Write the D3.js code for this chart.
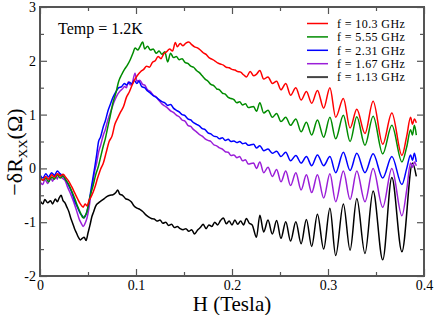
<!DOCTYPE html>
<html>
<head>
<meta charset="utf-8">
<script src="https://cdn.jsdelivr.net/npm/d3@7"></script>
<style>
  html, body { margin: 0; padding: 0; background: #fff; }
  svg { display: block; font-family: "Liberation Serif", "DejaVu Serif", serif; }
</style>
</head>
<body>
<svg id="chart"></svg>
<script>
// -dRxx vs H for several microwave frequencies, T = 1.2K

const xTicks = [0, 0.1, 0.2, 0.3, 0.4];
const xMinor = [0.05, 0.15, 0.25, 0.35];
const yTicks = [-2, -1, 0, 1, 2, 3];
const yMinor = [-1.5, -0.5, 0.5, 1.5, 2.5];

const labels = ["f = 10.3 GHz", "f = 5.55 GHz", "f = 2.31 GHz", "f = 1.67 GHz", "f = 1.13 GHz"];
const colors = ["#ff0000", "#008c00", "#0000ff", "#9a1ed8", "#000000"];

// [H (T), -dRxx (ohm)]
const red = [[0.000,-0.18],[0.003,-0.22],[0.006,-0.15],[0.009,-0.20],[0.012,-0.12],[0.015,-0.16],[0.018,-0.10],[0.021,-0.14],[0.024,-0.11],[0.027,-0.17],[0.030,-0.24],[0.033,-0.34],[0.036,-0.45],[0.039,-0.56],[0.042,-0.66],[0.045,-0.72],[0.047,-0.66],[0.049,-0.70],[0.051,-0.60],[0.054,-0.50],[0.057,-0.36],[0.060,-0.18],[0.063,-0.02],[0.066,0.10],[0.069,0.30],[0.072,0.50],[0.075,0.60],[0.078,0.82],[0.081,0.94],[0.084,1.05],[0.087,1.15],[0.090,1.32],[0.093,1.42],[0.096,1.55],[0.099,1.66],[0.102,1.74],[0.105,1.80],[0.108,1.84],[0.111,1.90],[0.114,1.88],[0.117,1.97],[0.120,2.00],[0.123,2.08],[0.126,2.04],[0.129,2.13],[0.132,2.17],[0.135,2.22],[0.138,2.18],[0.141,2.34],[0.143,2.26],[0.146,2.32],[0.149,2.28],[0.152,2.33],[0.155,2.35],[0.158,2.30],[0.161,2.26],[0.164,2.24],[0.167,2.20],[0.170,2.15],[0.173,2.12],[0.176,2.06],[0.179,2.03],[0.182,2.00],[0.185,1.96],[0.188,1.94],[0.191,1.92],[0.194,1.88],[0.197,1.87],[0.200,1.84],[0.203,1.83],[0.206,1.80],[0.209,1.79],[0.212,1.74],[0.215,1.70],[0.219,1.80],[0.2225,1.72],[0.2255,1.75],[0.229,1.82],[0.233,1.66],[0.2375,1.70],[0.242,1.58],[0.2465,1.62],[0.251,1.46],[0.256,1.58],[0.261,1.36],[0.2665,1.50],[0.272,1.27],[0.2775,1.43],[0.283,1.21],[0.289,1.45],[0.2955,1.12],[0.302,1.50],[0.308,0.95],[0.316,1.30],[0.323,0.75],[0.330,1.10],[0.3385,0.65],[0.347,1.25],[0.357,0.45],[0.3665,1.03],[0.377,0.24],[0.382,0.60],[0.386,0.95],[0.388,0.82],[0.390,0.92],[0.392,0.85]];

const green = [[0.000,-0.15],[0.003,-0.22],[0.006,-0.18],[0.009,-0.25],[0.012,-0.16],[0.015,-0.20],[0.018,-0.12],[0.021,-0.18],[0.024,-0.14],[0.027,-0.22],[0.030,-0.30],[0.033,-0.42],[0.036,-0.55],[0.039,-0.70],[0.042,-0.82],[0.045,-0.92],[0.047,-0.88],[0.049,-0.80],[0.051,-0.62],[0.053,-0.46],[0.055,-0.34],[0.058,-0.12],[0.061,0.05],[0.063,0.20],[0.066,0.42],[0.068,0.55],[0.071,0.80],[0.073,0.96],[0.076,1.22],[0.079,1.40],[0.082,1.62],[0.085,1.74],[0.088,1.84],[0.091,1.92],[0.094,2.02],[0.097,2.15],[0.099,2.24],[0.102,2.20],[0.104,2.26],[0.107,2.35],[0.109,2.22],[0.112,2.27],[0.115,2.20],[0.118,2.22],[0.121,2.14],[0.124,2.18],[0.127,2.12],[0.130,2.17],[0.133,1.98],[0.136,2.14],[0.139,2.06],[0.142,2.08],[0.145,2.02],[0.148,2.04],[0.151,1.97],[0.154,1.95],[0.157,1.90],[0.160,1.88],[0.163,1.82],[0.166,1.78],[0.169,1.72],[0.172,1.66],[0.175,1.62],[0.178,1.56],[0.181,1.54],[0.184,1.48],[0.187,1.46],[0.190,1.40],[0.193,1.38],[0.196,1.32],[0.199,1.30],[0.202,1.28],[0.205,1.22],[0.208,1.24],[0.211,1.18],[0.214,1.20],[0.217,1.13],[0.2225,1.15],[0.2255,1.06],[0.229,1.22],[0.233,1.03],[0.2375,1.08],[0.242,0.95],[0.2465,1.02],[0.251,0.87],[0.256,0.95],[0.261,0.80],[0.2665,0.92],[0.272,0.68],[0.2775,0.86],[0.283,0.62],[0.289,0.90],[0.2955,0.58],[0.302,0.95],[0.308,0.55],[0.316,0.99],[0.323,0.50],[0.330,0.96],[0.3385,0.43],[0.347,0.97],[0.357,0.27],[0.3665,0.80],[0.377,0.12],[0.382,0.40],[0.386,0.72],[0.388,0.62],[0.390,0.80],[0.392,0.62]];

const blue = [[0.000,-0.12],[0.003,-0.18],[0.006,-0.10],[0.009,-0.16],[0.012,-0.08],[0.015,-0.13],[0.018,-0.05],[0.021,-0.10],[0.024,-0.14],[0.027,-0.22],[0.030,-0.32],[0.033,-0.44],[0.036,-0.60],[0.039,-0.72],[0.042,-0.84],[0.044,-0.88],[0.046,-0.92],[0.048,-0.85],[0.050,-0.72],[0.052,-0.52],[0.054,-0.30],[0.057,0.02],[0.059,0.25],[0.061,0.50],[0.063,0.58],[0.066,0.78],[0.068,0.88],[0.071,1.08],[0.073,1.18],[0.076,1.32],[0.079,1.42],[0.082,1.50],[0.085,1.52],[0.088,1.58],[0.090,1.55],[0.093,1.60],[0.096,1.57],[0.098,1.64],[0.101,1.58],[0.103,1.62],[0.106,1.52],[0.109,1.50],[0.112,1.44],[0.115,1.40],[0.118,1.35],[0.121,1.32],[0.124,1.28],[0.127,1.24],[0.130,1.22],[0.133,1.17],[0.136,1.19],[0.139,1.12],[0.142,1.08],[0.145,1.05],[0.148,1.00],[0.151,0.98],[0.154,0.92],[0.157,0.90],[0.160,0.85],[0.163,0.82],[0.166,0.79],[0.169,0.74],[0.172,0.72],[0.175,0.66],[0.178,0.64],[0.181,0.60],[0.184,0.59],[0.187,0.55],[0.190,0.57],[0.193,0.52],[0.196,0.54],[0.199,0.50],[0.202,0.51],[0.205,0.48],[0.208,0.50],[0.211,0.46],[0.214,0.47],[0.217,0.43],[0.2225,0.45],[0.2255,0.38],[0.229,0.42],[0.233,0.33],[0.2375,0.36],[0.242,0.28],[0.2465,0.32],[0.251,0.22],[0.256,0.30],[0.261,0.14],[0.2665,0.24],[0.272,0.10],[0.2775,0.22],[0.283,0.05],[0.289,0.25],[0.2955,0.05],[0.302,0.22],[0.308,-0.08],[0.316,0.30],[0.323,-0.04],[0.330,0.28],[0.3385,-0.08],[0.347,0.27],[0.357,-0.18],[0.3665,0.22],[0.377,-0.30],[0.382,0.00],[0.386,0.25],[0.388,0.15],[0.390,0.28],[0.392,0.12]];

const purple = [[0.000,-0.25],[0.003,-0.30],[0.005,-0.20],[0.008,-0.28],[0.011,-0.16],[0.013,-0.24],[0.016,-0.12],[0.018,-0.20],[0.020,-0.09],[0.023,-0.18],[0.026,-0.22],[0.029,-0.36],[0.032,-0.48],[0.035,-0.62],[0.038,-0.78],[0.041,-0.95],[0.043,-1.02],[0.045,-1.08],[0.047,-1.02],[0.049,-0.92],[0.051,-0.74],[0.053,-0.48],[0.055,-0.26],[0.057,-0.05],[0.059,0.10],[0.061,0.30],[0.063,0.42],[0.066,0.62],[0.068,0.72],[0.071,0.92],[0.073,1.02],[0.076,1.18],[0.078,1.27],[0.081,1.38],[0.083,1.43],[0.086,1.48],[0.088,1.52],[0.090,1.50],[0.092,1.61],[0.094,1.55],[0.096,1.58],[0.099,1.77],[0.101,1.62],[0.104,1.64],[0.107,1.56],[0.109,1.55],[0.112,1.46],[0.115,1.43],[0.118,1.36],[0.121,1.33],[0.124,1.26],[0.127,1.20],[0.130,1.16],[0.133,1.12],[0.136,1.07],[0.139,1.04],[0.142,0.99],[0.145,0.96],[0.148,0.90],[0.151,0.88],[0.154,0.80],[0.157,0.78],[0.160,0.72],[0.163,0.68],[0.166,0.63],[0.169,0.60],[0.172,0.55],[0.175,0.52],[0.178,0.50],[0.181,0.44],[0.184,0.42],[0.187,0.38],[0.190,0.36],[0.193,0.31],[0.196,0.30],[0.199,0.24],[0.202,0.25],[0.205,0.20],[0.208,0.22],[0.211,0.14],[0.214,0.16],[0.217,0.08],[0.2225,0.10],[0.2255,0.00],[0.229,0.12],[0.233,-0.08],[0.2375,0.02],[0.242,-0.15],[0.2465,-0.02],[0.251,-0.25],[0.256,-0.05],[0.261,-0.32],[0.2665,-0.08],[0.272,-0.40],[0.2775,-0.12],[0.283,-0.45],[0.289,-0.12],[0.2955,-0.55],[0.302,-0.10],[0.308,-0.62],[0.316,-0.05],[0.323,-0.58],[0.330,-0.05],[0.3385,-0.62],[0.347,0.00],[0.357,-0.72],[0.3665,0.00],[0.377,-0.88],[0.382,-0.40],[0.386,0.10],[0.388,0.02],[0.390,0.12],[0.392,0.05]];

const black = [[0.000,-0.60],[0.003,-0.66],[0.005,-0.58],[0.008,-0.64],[0.011,-0.60],[0.013,-0.66],[0.016,-0.57],[0.018,-0.62],[0.020,-0.55],[0.022,-0.50],[0.024,-0.60],[0.026,-0.64],[0.028,-0.72],[0.030,-0.80],[0.032,-0.92],[0.034,-1.02],[0.036,-1.12],[0.038,-1.20],[0.040,-1.28],[0.042,-1.33],[0.044,-1.30],[0.046,-1.28],[0.048,-1.34],[0.050,-1.20],[0.052,-1.06],[0.054,-0.90],[0.056,-0.80],[0.058,-0.70],[0.061,-0.64],[0.064,-0.60],[0.067,-0.56],[0.070,-0.52],[0.073,-0.50],[0.076,-0.49],[0.079,-0.45],[0.081,-0.40],[0.083,-0.48],[0.086,-0.50],[0.089,-0.56],[0.092,-0.58],[0.095,-0.62],[0.098,-0.70],[0.101,-0.74],[0.104,-0.76],[0.107,-0.80],[0.110,-0.86],[0.113,-0.90],[0.116,-0.93],[0.119,-0.94],[0.122,-0.98],[0.125,-0.96],[0.128,-1.02],[0.131,-1.00],[0.134,-1.06],[0.137,-1.04],[0.140,-1.10],[0.143,-1.08],[0.146,-1.12],[0.149,-1.14],[0.152,-1.12],[0.155,-1.17],[0.158,-1.14],[0.161,-1.22],[0.164,-1.15],[0.167,-1.10],[0.170,-1.04],[0.173,-1.12],[0.176,-1.05],[0.179,-1.08],[0.182,-1.00],[0.185,-1.05],[0.188,-0.97],[0.191,-0.92],[0.194,-1.03],[0.197,-0.98],[0.200,-1.05],[0.203,-0.96],[0.206,-1.04],[0.209,-0.98],[0.212,-1.05],[0.215,-0.93],[0.218,-1.02],[0.221,-1.05],[0.2255,-1.28],[0.229,-0.87],[0.233,-1.18],[0.2375,-0.96],[0.242,-1.22],[0.2465,-0.97],[0.251,-1.30],[0.256,-0.99],[0.261,-1.35],[0.2665,-0.99],[0.272,-1.40],[0.2775,-0.95],[0.283,-1.45],[0.289,-0.85],[0.2955,-1.50],[0.302,-0.74],[0.308,-1.62],[0.316,-0.66],[0.323,-1.52],[0.330,-0.56],[0.3385,-1.58],[0.347,-0.42],[0.357,-1.70],[0.3665,-0.17],[0.377,-1.55],[0.388,0.10],[0.392,-0.15]];

const series = [red, green, blue, purple, black];

const W = 436, H = 315;
const mLeft = 40, mRight = 424, mTop = 7, mBottom = 276;

const svg = d3.select("#chart").attr("width", W).attr("height", H);

const x = d3.scaleLinear().domain([0, 0.4]).range([mLeft, mRight]);
const y = d3.scaleLinear().domain([-2, 3]).range([mBottom, mTop]);

const frame = "#555";
const serif = "'Liberation Serif', 'DejaVu Serif', serif";

// curves, black first so the colours sit on top
const line = d3.line()
    .x(d => x(d[0]))
    .y(d => y(d[1]))
    .curve(d3.curveMonotoneX);
const order = [4, 3, 2, 1, 0];
order.forEach(i => {
    svg.append("path")
        .datum(series[i])
        .attr("fill", "none")
        .attr("stroke", colors[i])
        .attr("stroke-width", 1.5)
        .attr("stroke-linejoin", "round")
        .attr("d", line);
});

// axes with inward ticks
function styleAxis(g) {
    g.attr("font-family", serif).attr("font-size", 14);
    g.select(".domain").remove();
    g.selectAll(".tick line").attr("stroke", frame).attr("stroke-width", 1.2);
    g.selectAll(".tick text")
        .attr("fill", "#000")
        .attr("font-family", serif)
        .style("font-family", serif)
        .style("font-size", "14px");
}

const fmtX = d => d === 0 ? "0" : d3.format(".1f")(d);

svg.append("g").attr("transform", `translate(0,${mBottom})`)
    .call(d3.axisBottom(x).tickValues(xTicks).tickFormat(fmtX).tickSizeInner(-7).tickSizeOuter(0).tickPadding(4))
    .call(styleAxis);
svg.append("g").attr("transform", `translate(0,${mBottom})`)
    .call(d3.axisBottom(x).tickValues(xMinor).tickFormat("").tickSizeInner(-4).tickSizeOuter(0))
    .call(styleAxis);
svg.append("g").attr("transform", `translate(0,${mTop})`)
    .call(d3.axisTop(x).tickValues(xTicks).tickFormat("").tickSizeInner(-7).tickSizeOuter(0))
    .call(styleAxis);
svg.append("g").attr("transform", `translate(0,${mTop})`)
    .call(d3.axisTop(x).tickValues(xMinor).tickFormat("").tickSizeInner(-4).tickSizeOuter(0))
    .call(styleAxis);

svg.append("g").attr("transform", `translate(${mLeft},0)`)
    .call(d3.axisLeft(y).tickValues(yTicks).tickFormat(d => String(d)).tickSizeInner(-7).tickSizeOuter(0).tickPadding(4))
    .call(styleAxis);
svg.append("g").attr("transform", `translate(${mLeft},0)`)
    .call(d3.axisLeft(y).tickValues(yMinor).tickFormat("").tickSizeInner(-4).tickSizeOuter(0))
    .call(styleAxis);
svg.append("g").attr("transform", `translate(${mRight},0)`)
    .call(d3.axisRight(y).tickValues(yTicks).tickFormat("").tickSizeInner(-7).tickSizeOuter(0))
    .call(styleAxis);
svg.append("g").attr("transform", `translate(${mRight},0)`)
    .call(d3.axisRight(y).tickValues(yMinor).tickFormat("").tickSizeInner(-4).tickSizeOuter(0))
    .call(styleAxis);

// frame
svg.append("rect")
    .attr("x", mLeft).attr("y", mTop)
    .attr("width", mRight - mLeft).attr("height", mBottom - mTop)
    .attr("fill", "none")
    .attr("stroke", frame)
    .attr("stroke-width", 2);

// axis titles
svg.append("text")
    .attr("x", (mLeft + mRight) / 2)
    .attr("y", 311)
    .attr("text-anchor", "middle")
    .style("font-size", "21px")
    .text("H (Tesla)");

const yt = svg.append("text")
    .attr("transform", "translate(22,152) rotate(-90)")
    .attr("text-anchor", "middle")
    .style("font-size", "22px");
yt.append("tspan").text("\u2212\u03b4R");
yt.append("tspan").attr("dy", 5).style("font-size", "13px").text("XX");
yt.append("tspan").attr("dy", -5).text("(\u03a9)");

svg.append("text")
    .attr("x", 58).attr("y", 34)
    .style("font-size", "16px")
    .text("Temp = 1.2K");

// legend
const legend = svg.append("g");
labels.forEach((t, i) => {
    const ly = 23.5 + i * 13.4;
    legend.append("line")
        .attr("x1", 307).attr("x2", 328)
        .attr("y1", ly).attr("y2", ly)
        .attr("stroke", i === 4 ? "#444" : colors[i])
        .attr("stroke-width", i === 4 ? 2 : 1.5);
    legend.append("text")
        .attr("x", 337).attr("y", ly + 4.3)
        .style("font-size", "12px")
        .style("letter-spacing", "0.4px")
        .text(t);
});
</script>
</body>
</html>
